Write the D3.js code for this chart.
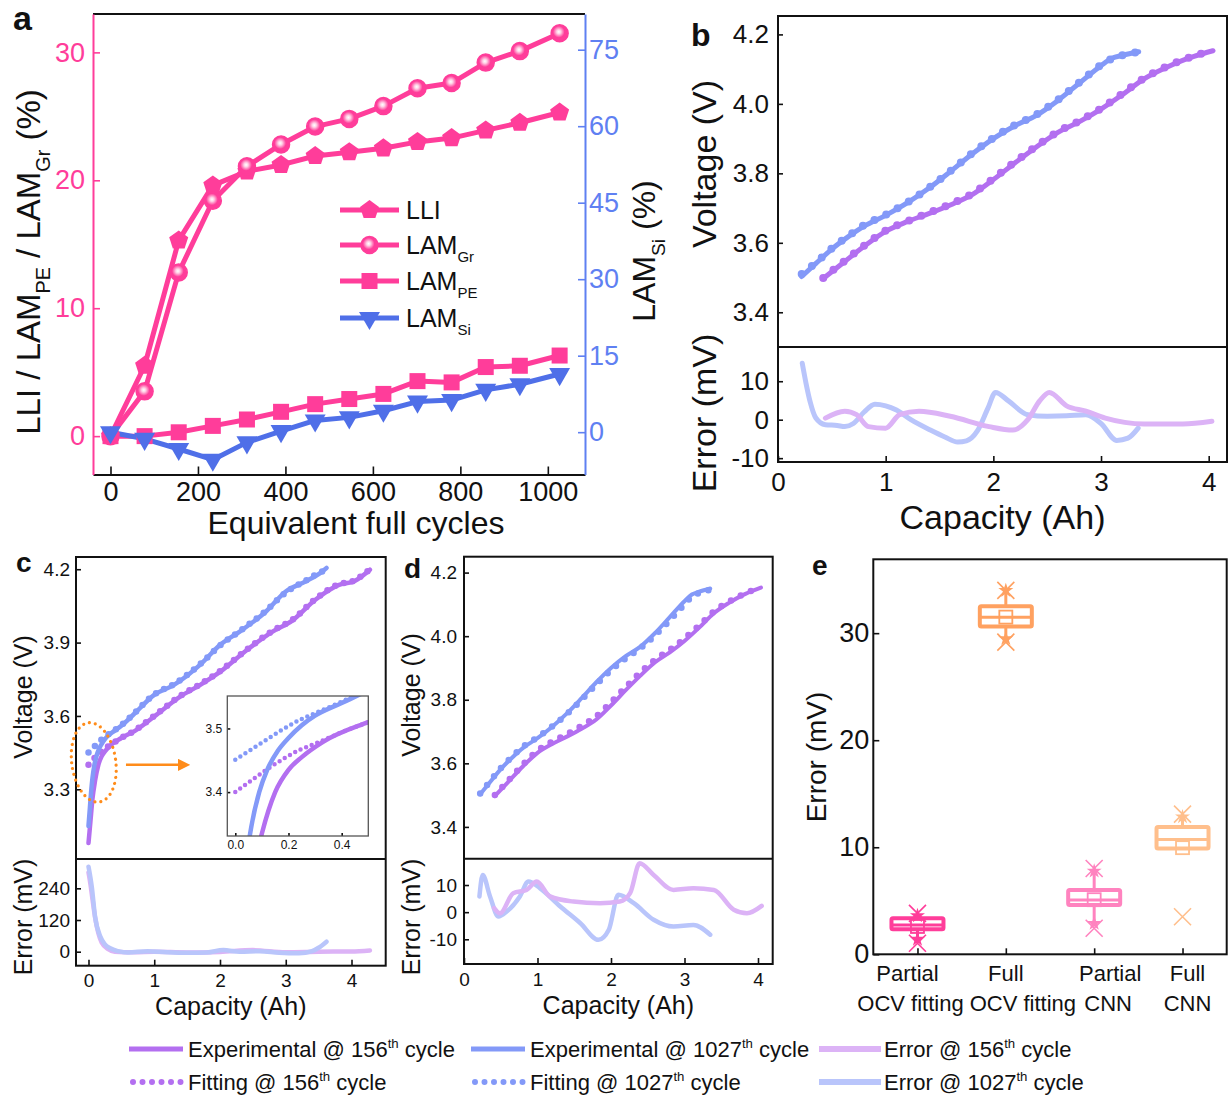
<!DOCTYPE html>
<html>
<head>
<meta charset="utf-8">
<title>Degradation modes and OCV fitting</title>
<script src="https://cdn.jsdelivr.net/npm/d3@7"></script>
<style>
  body { margin: 0; background: #fff; }
  text { font-family: Arial, "Liberation Sans", sans-serif; }
</style>
</head>
<body>
<svg id="figure" width="1228" height="1097"></svg>
<script>
// ---------- panel a: degradation modes vs. equivalent full cycles ----------
const cycles = [0, 78, 156, 234, 312, 390, 468, 546, 624, 702, 780, 858, 936, 1027];
const lli    = [0, 5.5, 15.3, 19.6, 20.7, 21.2, 21.9, 22.2, 22.5, 23.0, 23.3, 23.9, 24.5, 25.3];
const lamGr  = [0, 3.5, 12.8, 18.4, 21.1, 22.8, 24.2, 24.8, 25.8, 27.2, 27.6, 29.2, 30.1, 31.5];
const lamPE  = [0, 0, 0.3, 0.8, 1.3, 1.9, 2.5, 2.9, 3.3, 4.3, 4.2, 5.4, 5.5, 6.3];
const lamSi  = [0, -1.3, -3.3, -5.4, -2.0, 0.2, 2.3, 2.9, 4.2, 6.0, 6.3, 8.3, 9.4, 11.4];
const cycleTicks = [0, 200, 400, 600, 800, 1000];
const lossTicks = [0, 10, 20, 30];
const siTicks = [0, 15, 30, 45, 60, 75];
const legendANames = ['LLI', 'LAM', 'LAM', 'LAM'];
const legendASubs = ['', 'Gr', 'PE', 'Si'];

// ---------- panels b / d: partial-window OCV (experimental + fitting) ----------
const cap156 = [0.42, 0.6, 0.8, 1.0, 1.2, 1.4, 1.6, 1.8, 2.0, 2.2, 2.4, 2.6, 2.8, 3.0, 3.2, 3.4, 3.6, 3.8, 3.95, 4.04];
const exp156 = [3.497, 3.541, 3.59, 3.633, 3.661, 3.684, 3.709, 3.738, 3.782, 3.83, 3.876, 3.918, 3.949, 3.985, 4.027, 4.072, 4.104, 4.13, 4.145, 4.153];
const cap1027 = [0.22, 0.35, 0.5, 0.65, 0.8, 1.0, 1.2, 1.4, 1.6, 1.8, 2.0, 2.2, 2.4, 2.6, 2.8, 3.0, 3.1, 3.2, 3.35];
const exp1027 = [3.503, 3.54, 3.582, 3.617, 3.648, 3.679, 3.715, 3.757, 3.805, 3.855, 3.90, 3.937, 3.967, 4.01, 4.06, 4.11, 4.131, 4.14, 4.15];
const fitB156 = [3.499, 3.543, 3.592, 3.635, 3.662, 3.686, 3.711, 3.741, 3.785, 3.833, 3.878, 3.92, 3.951, 3.987, 4.03, 4.074, 4.106, 4.131, 4.146, 4.152];
const fitB1027 = [3.51, 3.542, 3.584, 3.619, 3.651, 3.681, 3.716, 3.758, 3.806, 3.857, 3.902, 3.939, 3.969, 4.012, 4.062, 4.112, 4.13, 4.14, 4.15];
const fitD156 = [3.50, 3.545, 3.596, 3.64, 3.668, 3.692, 3.718, 3.748, 3.792, 3.84, 3.886, 3.926, 3.957, 3.993, 4.034, 4.078, 4.108, 4.132, 4.146, 4.153];
const fitD1027 = [3.505, 3.542, 3.585, 3.62, 3.652, 3.682, 3.716, 3.755, 3.80, 3.848, 3.893, 3.93, 3.962, 4.003, 4.05, 4.10, 4.124, 4.136, 4.146];

const errBCap1027 = [0.225, 0.26, 0.3, 0.35, 0.44, 0.55, 0.62, 0.7, 0.8, 0.9, 1.0, 1.1, 1.234, 1.415, 1.55, 1.67, 1.75, 1.85, 1.95, 2.02, 2.14, 2.32, 2.5, 2.68, 2.86, 3.0, 3.146, 3.25, 3.345];
const errB1027 = [14.7, 9.5, 4.5, 0.5, -1.3, -1.5, -1.8, -1.0, 2.0, 4.0, 3.6, 2.5, 0, -2.7, -4.5, -5.8, -5.5, -3.0, 3.0, 7.1, 4.9, 1.3, 0.9, 1.0, 1.3, -1.0, -5.4, -4.8, -2.2];
const errBCap156 = [0.44, 0.62, 0.73, 0.84, 1.0, 1.13, 1.31, 1.6, 1.96, 2.18, 2.32, 2.43, 2.52, 2.68, 2.86, 3.04, 3.22, 3.4, 3.76, 4.03];
const errB156 = [0.4, 2.2, 1.3, -1.8, -2.2, 1.3, 2.2, 0.9, -1.8, -2.7, 0, 4.9, 7.1, 3.6, 2.2, 0.4, -0.7, -1.1, -1.1, -0.4];

const errDCap1027 = [0.21, 0.254, 0.354, 0.468, 0.58, 0.76, 0.876, 1.035, 1.31, 1.58, 1.83, 1.97, 2.10, 2.31, 2.58, 2.85, 3.12, 3.35];
const errD1027 = [5.8, 13.7, 5.8, -1.6, 0.2, 5.8, 11.3, 8.8, 2.1, -4.0, -10.2, -6.5, 6.4, 3.3, -2.8, -5.3, -4.7, -8.3];
const errDCap156 = [0.41, 0.49, 0.67, 0.85, 0.99, 1.17, 1.49, 1.85, 2.12, 2.26, 2.39, 2.58, 2.85, 3.12, 3.40, 3.67, 3.85, 4.05];
const errD156 = [1.5, -0.4, 7.0, 8.2, 11.3, 5.8, 3.9, 3.3, 3.9, 7.0, 18.0, 13.7, 8.2, 8.8, 8.2, 0.9, -0.4, 2.3];

// ---------- panel c: full-window OCV ----------
const cExpCap1027 = [0.0, 0.02, 0.04, 0.06, 0.09, 0.12, 0.16, 0.2, 0.25, 0.3, 0.4, 0.5, 0.7, 1.0, 1.3, 1.7, 2.0, 2.3, 2.7, 3.0, 3.3, 3.5, 3.62];
const cExpV1027 = [3.15, 3.22, 3.29, 3.345, 3.40, 3.435, 3.465, 3.485, 3.505, 3.52, 3.54, 3.56, 3.61, 3.686, 3.727, 3.81, 3.89, 3.945, 4.027, 4.109, 4.15, 4.18, 4.205];
const cFitCap1027 = [0, 0.06, 0.12, 0.18, 0.24, 0.3, 0.4, 0.5, 0.7, 1.0, 1.3, 1.7, 2.0, 2.3, 2.7, 3.0, 3.3, 3.5, 3.6, 3.62];
const cFitV1027 = [3.451, 3.467, 3.483, 3.499, 3.513, 3.524, 3.542, 3.562, 3.612, 3.688, 3.73, 3.812, 3.888, 3.947, 4.03, 4.105, 4.153, 4.185, 4.2, 4.215];
const cExpCap156 = [0.0, 0.03, 0.06, 0.1, 0.15, 0.2, 0.25, 0.33, 0.5, 0.7, 1.0, 1.4, 1.7, 2.0, 2.4, 2.8, 3.1, 3.45, 3.8, 4.05, 4.28];
const cExpV156 = [3.08, 3.17, 3.26, 3.335, 3.40, 3.435, 3.455, 3.479, 3.51, 3.538, 3.598, 3.68, 3.727, 3.78, 3.868, 3.945, 3.99, 4.075, 4.135, 4.152, 4.198];
const cFitCap156 = [0, 0.06, 0.12, 0.18, 0.24, 0.3, 0.4, 0.5, 0.7, 1.0, 1.4, 1.7, 2.0, 2.4, 2.8, 3.1, 3.45, 3.8, 4.05, 4.28];
const cFitV156 = [3.40, 3.418, 3.436, 3.452, 3.466, 3.476, 3.494, 3.51, 3.54, 3.60, 3.683, 3.73, 3.783, 3.87, 3.948, 3.993, 4.078, 4.138, 4.155, 4.20];
const cErrCap1027 = [0, 0.03, 0.05, 0.1, 0.18, 0.25, 0.33, 0.45, 0.6, 0.9, 1.2, 1.5, 1.8, 2.05, 2.3, 2.6, 2.9, 3.2, 3.4, 3.5, 3.62];
const cErr1027 = [322, 280, 246, 133, 57, 28, 13, 2, -3, 2, -2, -4, -3, 6, 0, 2, -4, -6, 2, 15, 38];
const cErrCap156 = [0, 0.03, 0.06, 0.1, 0.15, 0.2, 0.3, 0.4, 0.7, 1.0, 1.5, 2.0, 2.5, 3.0, 3.5, 4.0, 4.28];
const cErr156 = [300, 255, 200, 130, 70, 35, 10, 0, -2, 0, -3, -1, 6, -2, 0, 1, 5];

// ---------- panel e: error statistics per method ----------
const methodLine1 = ['Partial', 'Full', 'Partial', 'Full'];
const methodLine2 = ['OCV fitting', 'OCV fitting', 'CNN', 'CNN'];
const boxQ1 = [2.33, 30.62, 4.61, 9.89];
const boxQ3 = [3.36, 32.52, 6.0, 11.9];
const boxMedian = [2.73, 31.49, 5.07, 10.73];
const boxMean = [2.6, 31.5, 5.1, 9.96];
const whiskerLow = [1.4, 29.48, 2.89, 9.89];
const whiskerHigh = [3.6, 33.98, 7.77, 12.84];
const extremeMin = [1.03, 29.16, 2.43, 3.51];
const extremeMax = [3.82, 34.0, 8.02, 13.09];
const errorTicks = [0, 10, 20, 30];

// ---------- shared legend ----------
const legendPrefix = ['Experimental @ 156', 'Experimental @ 1027', 'Error @ 156', 'Fitting @ 156', 'Fitting @ 1027', 'Error @ 1027'];
const legendKind = ['line', 'line', 'line', 'dots', 'dots', 'line'];

const PINK = '#ff3d9a';
const SI_BLUE = '#4f6fe8';
const RIGHT_BLUE = '#5f80f2';
const PURPLE = '#b36ff0';
const BLUE = '#8399f8';
const ERR_PURPLE = '#dcb3f6';
const ERR_BLUE = '#b9c5fb';
const ORANGE = '#ff8c1a';
const INK = '#111';

const svg = d3.select('#figure');
const defs = svg.append('defs');

const ball = defs.append('radialGradient').attr('id', 'ball').attr('cx', '45%').attr('cy', '42%').attr('r', '55%');
ball.append('stop').attr('offset', '0%').attr('stop-color', '#fff');
ball.append('stop').attr('offset', '22%').attr('stop-color', '#ffd2e6');
ball.append('stop').attr('offset', '62%').attr('stop-color', PINK);
ball.append('stop').attr('offset', '100%').attr('stop-color', PINK);

defs.append('marker').attr('id', 'arrowHead')
    .attr('viewBox', '0 0 10 10').attr('refX', 6).attr('refY', 5)
    .attr('markerWidth', 5).attr('markerHeight', 5).attr('orient', 'auto')
  .append('path').attr('d', 'M0,0L10,5L0,10z').attr('fill', ORANGE);

// text with sub/superscript parts: [[str, null|'sub'|'sup'], ...]
function richText(g, parts, fs) {
    const t = g.append('text').attr('font-size', fs).attr('fill', INK);
    let shift = 0;
    parts.forEach(([s, kind]) => {
        const target = kind === 'sub' ? fs * 0.3 : kind === 'sup' ? -fs * 0.42 : 0;
        t.append('tspan')
            .attr('dy', target - shift)
            .attr('font-size', kind ? fs * 0.6 : fs)
            .text(s);
        shift = target;
    });
    return t;
}

function vertText(g, x, y, parts, fs) {
    return richText(g, parts, fs)
        .attr('text-anchor', 'middle')
        .attr('transform', `translate(${x},${y}) rotate(-90)`);
}

function styleAxis(a, color, fs, keepDomain) {
    if (!keepDomain) a.select('.domain').remove();
    a.attr('font-family', null).attr('font-size', fs);
    a.selectAll('line').attr('stroke', color).attr('stroke-width', 1.6);
    a.selectAll('text').attr('fill', color);
    a.select('.domain').attr('stroke', color).attr('stroke-width', 2);
}

function panelLabel(x, y, s, fs) {
    svg.append('text').attr('x', x).attr('y', y).attr('font-size', fs)
        .attr('font-weight', 'bold').attr('fill', INK).text(s);
}

function pentagon(r) {
    const p = d3.path();
    d3.range(5).forEach(k => {
        const a = -Math.PI / 2 + k * 2 * Math.PI / 5;
        k ? p.lineTo(r * Math.cos(a), r * Math.sin(a)) : p.moveTo(r * Math.cos(a), r * Math.sin(a));
    });
    p.closePath();
    return p.toString();
}

function drawMarker(g, type, x, y) {
    if (type === 'pentagon') {
        g.append('path').attr('d', pentagon(10)).attr('fill', PINK)
            .attr('transform', `translate(${x},${y})`);
    } else if (type === 'ball') {
        g.append('circle').attr('cx', x).attr('cy', y).attr('r', 8.5)
            .attr('fill', 'url(#ball)').attr('stroke', PINK).attr('stroke-width', 1.5);
    } else if (type === 'square') {
        g.append('rect').attr('x', x - 8).attr('y', y - 8).attr('width', 16).attr('height', 16).attr('fill', PINK);
    } else {
        g.append('path').attr('d', d3.symbol(d3.symbolTriangle, 190)())
            .attr('fill', SI_BLUE).attr('transform', `translate(${x},${y}) rotate(180)`);
    }
}

// ================= panel a =================
const pa = svg.append('g');
const ax = d3.scaleLinear().domain([-40, 1085]).range([93, 585]);
const ayL = d3.scaleLinear().domain([-3, 33]).range([474.5, 14]);
const ayR = d3.scaleLinear().domain([-8.3, 82]).range([474.5, 14]);

const seriesA = [
    { values: lli, y: ayL, color: PINK, marker: 'pentagon' },
    { values: lamGr, y: ayL, color: PINK, marker: 'ball' },
    { values: lamPE, y: ayL, color: PINK, marker: 'square' },
    { values: lamSi, y: ayR, color: SI_BLUE, marker: 'triangle' }
];

seriesA.forEach(s => {
    const line = d3.line().x((d, i) => ax(cycles[i])).y(d => s.y(d));
    pa.append('path').attr('d', line(s.values)).attr('fill', 'none')
        .attr('stroke', s.color).attr('stroke-width', 5).attr('stroke-linejoin', 'round');
});
seriesA.forEach(s => {
    s.values.forEach((v, i) => drawMarker(pa, s.marker, ax(cycles[i]), s.y(v)));
});

pa.append('line').attr('x1', 93).attr('x2', 585).attr('y1', 14).attr('y2', 14)
    .attr('stroke', INK).attr('stroke-width', 2);

const aBottom = pa.append('g').attr('transform', 'translate(0,474.5)')
    .call(d3.axisBottom(ax).tickValues(cycleTicks).tickFormat(d => String(d))
        .tickSizeInner(-8).tickSizeOuter(0).tickPadding(7.5));
styleAxis(aBottom, INK, 27, true);

const aLeft = pa.append('g').attr('transform', 'translate(93,0)')
    .call(d3.axisLeft(ayL).tickValues(lossTicks).tickSizeInner(-7).tickSizeOuter(0).tickPadding(8));
styleAxis(aLeft, PINK, 27, true);

const aRight = pa.append('g').attr('transform', 'translate(585,0)')
    .call(d3.axisRight(ayR).tickValues(siTicks).tickSizeInner(-7).tickSizeOuter(0).tickPadding(4));
styleAxis(aRight, RIGHT_BLUE, 27, true);

vertText(pa, 40, 262, [['LLI / LAM', null], ['PE', 'sub'], [' / LAM', null], ['Gr', 'sub'], ['  (%)', null]], 33);
vertText(pa, 655, 251, [['LAM', null], ['Si', 'sub'], ['  (%)', null]], 32);
pa.append('text').attr('x', 356).attr('y', 534).attr('text-anchor', 'middle')
    .attr('font-size', 32).attr('fill', INK).text('Equivalent full cycles');

// legend of panel a
const legendAY = [210, 245, 281, 318];
seriesA.forEach((s, i) => {
    const y = legendAY[i];
    pa.append('line').attr('x1', 340).attr('x2', 399).attr('y1', y).attr('y2', y)
        .attr('stroke', s.color).attr('stroke-width', 5);
    drawMarker(pa, s.marker, 369.5, y);
    richText(pa, [[legendANames[i], null], [legendASubs[i], 'sub']], 25)
        .attr('x', 406).attr('y', y + 9);
});
panelLabel(13, 30, 'a', 34);

// ================= panels b, c, d =================
function voltagePanel(p) {
    const g = svg.append('g');
    const x = d3.scaleLinear().domain(p.xDomain).range([p.left, p.right]);
    const yV = d3.scaleLinear().domain(p.vDomain).range([p.mid, p.top]);
    const yE = d3.scaleLinear().domain(p.eDomain).range([p.bottom, p.mid]);
    const path = (xs, ys, sy) => d3.line().curve(d3.curveMonotoneX)(xs.map((v, i) => [x(v), sy(ys[i])]));

    p.errors.forEach(e => {
        g.append('path').attr('d', path(e.cap, e.err, yE)).attr('fill', 'none')
            .attr('stroke', e.color).attr('stroke-width', p.errW)
            .attr('stroke-linecap', 'round').attr('stroke-linejoin', 'round');
    });
    p.curves.forEach(c => {
        g.append('path').attr('d', path(c.expCap, c.expV, yV)).attr('fill', 'none')
            .attr('stroke', c.color).attr('stroke-width', p.lineW).attr('stroke-linecap', 'round');
        g.append('path').attr('d', path(c.fitCap, c.fitV, yV)).attr('fill', 'none')
            .attr('stroke', c.color).attr('stroke-width', p.dotW)
            .attr('stroke-linecap', 'round').attr('stroke-dasharray', `0 ${p.dotGap}`);
    });

    const axV = g.append('g').attr('transform', `translate(${p.left},0)`)
        .call(d3.axisLeft(yV).tickValues(p.vTicks).tickFormat(d3.format('.1f'))
            .tickSizeInner(-5).tickSizeOuter(0).tickPadding(p.padY));
    const axE = g.append('g').attr('transform', `translate(${p.left},0)`)
        .call(d3.axisLeft(yE).tickValues(p.eTicks).tickFormat(d => String(d))
            .tickSizeInner(-5).tickSizeOuter(0).tickPadding(p.padY));
    const axX = g.append('g').attr('transform', `translate(0,${p.bottom})`)
        .call(d3.axisBottom(x).tickValues(p.xTicks).tickFormat(d => String(d))
            .tickSizeInner(-6).tickSizeOuter(0).tickPadding(p.padX));
    [axV, axE, axX].forEach(a => styleAxis(a, INK, p.tickFont));

    g.append('rect').attr('x', p.left).attr('y', p.top)
        .attr('width', p.right - p.left).attr('height', p.bottom - p.top)
        .attr('fill', 'none').attr('stroke', INK).attr('stroke-width', 2);
    g.append('line').attr('x1', p.left).attr('x2', p.right).attr('y1', p.mid).attr('y2', p.mid)
        .attr('stroke', INK).attr('stroke-width', 2);

    vertText(g, p.titleX, p.vTitleY, [['Voltage (V)', null]], p.titleFont);
    vertText(g, p.titleX, p.eTitleY, [['Error (mV)', null]], p.titleFont);
    g.append('text').attr('x', (p.left + p.right) / 2).attr('y', p.capY)
        .attr('text-anchor', 'middle').attr('font-size', p.titleFont).attr('fill', INK)
        .text('Capacity (Ah)');
    return { g, x, yV, yE };
}

voltagePanel({
    left: 778, right: 1227, top: 16, mid: 347, bottom: 462,
    xDomain: [0, 4.17], vDomain: [3.3, 4.253], eDomain: [-11, 18.9],
    vTicks: [3.4, 3.6, 3.8, 4.0, 4.2], eTicks: [-10, 0, 10], xTicks: [0, 1, 2, 3, 4],
    tickFont: 26, titleFont: 34, padY: 9, padX: 11,
    titleX: 716, vTitleY: 164, eTitleY: 413, capY: 529,
    lineW: 5, dotW: 8, dotGap: 13, errW: 5,
    errors: [
        { cap: errBCap1027, err: errB1027, color: ERR_BLUE },
        { cap: errBCap156, err: errB156, color: ERR_PURPLE }
    ],
    curves: [
        { expCap: cap156, expV: exp156, fitCap: cap156, fitV: fitB156, color: PURPLE },
        { expCap: cap1027, expV: exp1027, fitCap: cap1027, fitV: fitB1027, color: BLUE }
    ]
});
panelLabel(691, 46, 'b', 32);

const pc = voltagePanel({
    left: 76, right: 385.7, top: 557, mid: 859, bottom: 965.7,
    xDomain: [-0.19, 4.52], vDomain: [3.015, 4.25], eDomain: [-53, 351],
    vTicks: [3.3, 3.6, 3.9, 4.2], eTicks: [0, 120, 240], xTicks: [0, 1, 2, 3, 4],
    tickFont: 19, titleFont: 25, padY: 6, padX: 8,
    titleX: 32, vTitleY: 697, eTitleY: 917, capY: 1015,
    lineW: 4.5, dotW: 6.5, dotGap: 9, errW: 4.5,
    errors: [
        { cap: cErrCap156, err: cErr156, color: ERR_PURPLE },
        { cap: cErrCap1027, err: cErr1027, color: ERR_BLUE }
    ],
    curves: [
        { expCap: cExpCap156, expV: cExpV156, fitCap: cFitCap156, fitV: cFitV156, color: PURPLE },
        { expCap: cExpCap1027, expV: cExpV1027, fitCap: cFitCap1027, fitV: cFitV1027, color: BLUE }
    ]
});
panelLabel(16, 572, 'c', 28);

// orange highlight round the start of the curves, and arrow to the inset
pc.g.append('ellipse')
    .attr('cx', pc.x(0.08)).attr('cy', pc.yV(3.41)).attr('rx', 22).attr('ry', 40)
    .attr('fill', 'none').attr('stroke', ORANGE).attr('stroke-width', 3.2)
    .attr('stroke-linecap', 'round').attr('stroke-dasharray', '0 6')
    .attr('transform', `rotate(-8,${pc.x(0.08)},${pc.yV(3.41)})`);
pc.g.append('line')
    .attr('x1', pc.x(0.57)).attr('x2', pc.x(1.47)).attr('y1', pc.yV(3.40)).attr('y2', pc.yV(3.40))
    .attr('stroke', ORANGE).attr('stroke-width', 2.5).attr('marker-end', 'url(#arrowHead)');

// inset of panel c: zoom on the low-capacity start
const ins = svg.append('g');
const ix = d3.scaleLinear().domain([-0.03, 0.5]).range([227.3, 368.3]);
const iy = d3.scaleLinear().domain([3.331, 3.551]).range([836, 696]);
defs.append('clipPath').attr('id', 'insetClip')
  .append('rect').attr('x', 227.3).attr('y', 696).attr('width', 141).attr('height', 140);
ins.append('rect').attr('x', 227.3).attr('y', 696).attr('width', 141).attr('height', 140).attr('fill', '#fff');
const inPlot = ins.append('g').attr('clip-path', 'url(#insetClip)');
const iPath = (xs, ys) => d3.line().curve(d3.curveMonotoneX)(xs.map((v, i) => [ix(v), iy(ys[i])]));
[
    { expCap: cExpCap156, expV: cExpV156, fitCap: cFitCap156, fitV: cFitV156, color: PURPLE },
    { expCap: cExpCap1027, expV: cExpV1027, fitCap: cFitCap1027, fitV: cFitV1027, color: BLUE }
].forEach(c => {
    inPlot.append('path').attr('d', iPath(c.expCap, c.expV)).attr('fill', 'none')
        .attr('stroke', c.color).attr('stroke-width', 4.5);
    inPlot.append('path').attr('d', iPath(c.fitCap, c.fitV)).attr('fill', 'none')
        .attr('stroke', c.color).attr('stroke-width', 4.5)
        .attr('stroke-linecap', 'round').attr('stroke-dasharray', '0 6');
});
const insL = ins.append('g').attr('transform', 'translate(227.3,0)')
    .call(d3.axisLeft(iy).tickValues([3.4, 3.5]).tickFormat(d3.format('.1f'))
        .tickSizeInner(-3).tickSizeOuter(0).tickPadding(5));
const insB = ins.append('g').attr('transform', 'translate(0,836)')
    .call(d3.axisBottom(ix).tickValues([0, 0.2, 0.4]).tickFormat(d3.format('.1f'))
        .tickSizeInner(-3).tickSizeOuter(0).tickPadding(4));
[insL, insB].forEach(a => styleAxis(a, INK, 12));
ins.append('rect').attr('x', 227.3).attr('y', 696).attr('width', 141).attr('height', 140)
    .attr('fill', 'none').attr('stroke', '#555').attr('stroke-width', 1.3);

voltagePanel({
    left: 464, right: 772.7, top: 556.7, mid: 858.7, bottom: 964,
    xDomain: [0, 4.2], vDomain: [3.3, 4.25], eDomain: [-19.1, 19.7],
    vTicks: [3.4, 3.6, 3.8, 4.0, 4.2], eTicks: [-10, 0, 10], xTicks: [0, 1, 2, 3, 4],
    tickFont: 19, titleFont: 25, padY: 7, padX: 9,
    titleX: 420, vTitleY: 695, eTitleY: 917, capY: 1014,
    lineW: 4, dotW: 6.5, dotGap: 11, errW: 4.5,
    errors: [
        { cap: errDCap1027, err: errD1027, color: ERR_BLUE },
        { cap: errDCap156, err: errD156, color: ERR_PURPLE }
    ],
    curves: [
        { expCap: cap156, expV: exp156, fitCap: cap156, fitV: fitD156, color: PURPLE },
        { expCap: cap1027, expV: exp1027, fitCap: cap1027, fitV: fitD1027, color: BLUE }
    ]
});
panelLabel(404, 578, 'd', 28);

// ================= panel e =================
const pe = svg.append('g');
const ex = d3.scaleLinear().domain([0.5, 4.5]).range([873.3, 1226.7]);
const ey = d3.scaleLinear().domain([0, 36.9]).range([954.3, 559.3]);
const boxColors = ['#ff3d9a', '#ffa160', '#ff83bf', '#ffbf8c'];
const cross = r => `M${-r},${-r}L${r},${r}M${r},${-r}L${-r},${r}`;

methodLine1.forEach((m, i) => {
    const cx = ex(i + 1), col = boxColors[i], hw = 26;
    pe.append('line').attr('x1', cx).attr('x2', cx)
        .attr('y1', ey(whiskerLow[i])).attr('y2', ey(whiskerHigh[i]))
        .attr('stroke', col).attr('stroke-width', 3);
    pe.append('rect').attr('x', cx - hw).attr('y', ey(boxQ3[i]))
        .attr('width', 2 * hw).attr('height', ey(boxQ1[i]) - ey(boxQ3[i]))
        .attr('fill', '#fff').attr('stroke', col).attr('stroke-width', 4).attr('rx', 1.5);
    pe.append('line').attr('x1', cx - hw).attr('x2', cx + hw)
        .attr('y1', ey(boxMedian[i])).attr('y2', ey(boxMedian[i]))
        .attr('stroke', col).attr('stroke-width', 3);
    pe.append('rect').attr('x', cx - 6.5).attr('y', ey(boxMean[i]) - 6.5)
        .attr('width', 13).attr('height', 13)
        .attr('fill', 'none').attr('stroke', col).attr('stroke-width', 1.8);
    [whiskerLow[i], whiskerHigh[i]].forEach(v => {
        if (v === boxQ1[i]) return;
        pe.append('path').attr('d', d3.symbol(d3.symbolStar, 70)())
            .attr('fill', col).attr('transform', `translate(${cx},${ey(v)})`);
    });
    [extremeMin[i], extremeMax[i]].forEach(v => {
        pe.append('path').attr('d', cross(8.5)).attr('fill', 'none')
            .attr('stroke', col).attr('stroke-width', 1.6)
            .attr('transform', `translate(${cx},${ey(v)})`);
    });
});

const eLeft = pe.append('g').attr('transform', 'translate(873.3,0)')
    .call(d3.axisLeft(ey).tickValues(errorTicks).tickSizeInner(-6).tickSizeOuter(0).tickPadding(4));
styleAxis(eLeft, INK, 27);
const eBottom = pe.append('g').attr('transform', 'translate(0,954.3)')
    .call(d3.axisBottom(ex).tickValues([1, 2, 3, 4]).tickFormat('')
        .tickSizeInner(-6).tickSizeOuter(0));
styleAxis(eBottom, INK, 22);
pe.append('rect').attr('x', 873.3).attr('y', 559.3).attr('width', 353.4).attr('height', 395)
    .attr('fill', 'none').attr('stroke', INK).attr('stroke-width', 2);

const line1Dx = [-10, 0, 16, 5];
const line2Dx = [-7, 17, 14, 5];
methodLine1.forEach((m, i) => {
    pe.append('text').attr('x', ex(i + 1) + line1Dx[i]).attr('y', 981)
        .attr('text-anchor', 'middle').attr('font-size', 22).attr('fill', INK).text(m);
    pe.append('text').attr('x', ex(i + 1) + line2Dx[i]).attr('y', 1011)
        .attr('text-anchor', 'middle').attr('font-size', 22).attr('fill', INK).text(methodLine2[i]);
});
vertText(pe, 826, 757, [['Error (mV)', null]], 28);
panelLabel(812, 575, 'e', 28);

// ================= shared legend =================
const lg = svg.append('g');
const legendColors = [PURPLE, BLUE, ERR_PURPLE, PURPLE, BLUE, ERR_BLUE];
const legendLineX = [[129, 183], [471, 525], [819, 881]];
const legendTextX = [188, 530, 884];
const legendRowY = [1049, 1082];
legendPrefix.forEach((label, i) => {
    const col = i % 3, row = Math.floor(i / 3), y = legendRowY[row];
    const ln = lg.append('line')
        .attr('x1', legendLineX[col][0]).attr('x2', legendLineX[col][1])
        .attr('y1', y).attr('y2', y).attr('stroke', legendColors[i]);
    if (legendKind[i] === 'dots') {
        ln.attr('stroke-width', 6).attr('stroke-linecap', 'round').attr('stroke-dasharray', '0 9.5')
            .attr('x1', legendLineX[col][0] + 4);
    } else {
        ln.attr('stroke-width', col === 2 ? 6 : 5);
    }
    richText(lg, [[label, null], ['th', 'sup'], [' cycle', null]], 22)
        .attr('x', legendTextX[col]).attr('y', y + 8);
});
</script>
</body>
</html>
